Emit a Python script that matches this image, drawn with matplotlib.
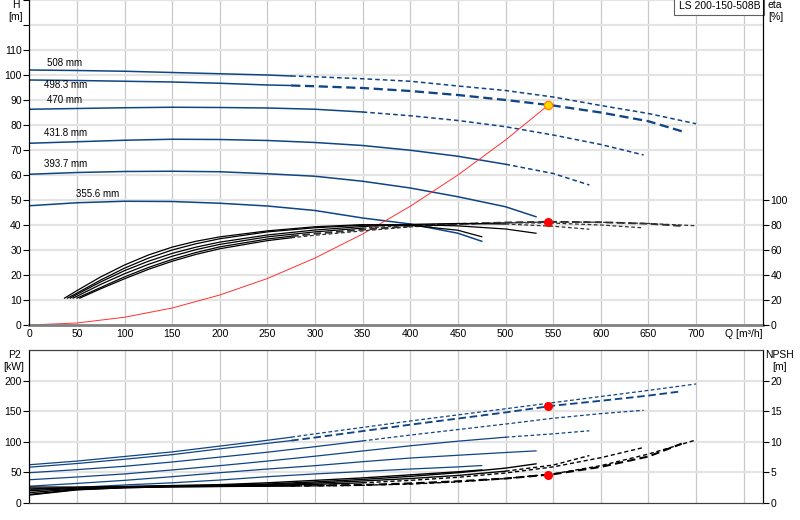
import numpy as np
import matplotlib
matplotlib.use("Agg")
import matplotlib.pyplot as plt

plt.rcParams['font.family'] = ['Liberation Sans', 'DejaVu Sans']
plt.rcParams['font.size'] = 7

# impeller diameters, top to bottom
diameters = ['508 mm', '498.3 mm', '470 mm', '431.8 mm', '393.7 mm', '355.6 mm']
dash_from = [275, 275, 350, 500, None, None]   # Q where curve turns dashed
bold = [False, True, False, False, False, False]

# H [m] curves
h_q = [
    [0, 50, 100, 150, 200, 250, 275, 300, 350, 400, 450, 500, 550, 600, 650, 700],
    [0, 50, 100, 150, 200, 250, 275, 300, 350, 400, 450, 500, 550, 600, 650, 685],
    [0, 50, 100, 150, 200, 250, 300, 350, 400, 450, 500, 550, 600, 645],
    [0, 50, 100, 150, 200, 250, 300, 350, 400, 450, 500, 550, 588],
    [0, 50, 100, 150, 200, 250, 300, 350, 400, 450, 500, 532],
    [0, 50, 100, 150, 200, 250, 300, 350, 400, 450, 475],
]
h_val = [
    [102, 101.8, 101.5, 101, 100.5, 100, 99.6, 99.3, 98.5, 97.5, 95.6, 93.8, 91.2, 87.8, 84.6, 80.5],
    [98, 97.8, 97.5, 97.2, 96.7, 96, 95.8, 95.5, 94.8, 93.6, 92, 90, 87.8, 85, 81.5, 77.5],
    [86.3, 86.6, 86.9, 87.1, 87, 86.8, 86.3, 85.2, 83.7, 81.8, 79.3, 76, 72.2, 68],
    [72.7, 73.3, 73.9, 74.3, 74.2, 73.8, 73, 71.8, 69.9, 67.5, 64.3, 60.6, 56],
    [60.3, 61, 61.4, 61.5, 61.3, 60.5, 59.5, 57.5, 54.8, 51.3, 47.3, 43.3],
    [47.7, 48.9, 49.5, 49.4, 48.7, 47.6, 45.8, 42.8, 40.4, 36.7, 33.5],
]

# eta [%] curves
eta_q = [
    [53, 75, 100, 125, 150, 175, 200, 250, 275, 300, 350, 400, 450, 500, 550, 600, 650, 700],
    [50, 75, 100, 125, 150, 175, 200, 250, 275, 300, 350, 400, 450, 500, 545, 600, 650, 686],
    [46, 50, 75, 100, 125, 150, 175, 200, 250, 300, 350, 400, 450, 500, 550, 600, 643],
    [43, 50, 75, 100, 125, 150, 175, 200, 250, 300, 350, 400, 450, 500, 550, 588],
    [40, 50, 75, 100, 125, 150, 175, 200, 250, 300, 350, 400, 450, 500, 532],
    [37, 50, 75, 100, 125, 150, 175, 200, 250, 300, 350, 400, 450, 475],
]
eta_val = [
    [21.5, 29, 37, 44.5, 51, 56.5, 61, 67.5, 69.8, 71.8, 75.3, 78.5, 80.5, 81.8, 82.4, 82.2, 81.2, 79.4],
    [21.5, 30, 38.5, 46, 52.5, 58, 62.5, 68.8, 71, 73, 76.3, 79, 80.8, 82, 82.6, 82.2, 81, 79.2],
    [21.5, 23, 32.5, 41, 48.5, 55, 60.3, 64.5, 70.5, 74.5, 77.5, 79.7, 81.1, 81.8, 81.5, 80, 77.8],
    [21.5, 24.5, 34.5, 43.5, 51, 57.3, 62.3, 66.3, 72, 76, 78.8, 80.5, 81.2, 80.8, 79, 76.6],
    [21.5, 25.5, 36, 45.5, 53.5, 60, 65, 69, 74.5, 77.8, 79.8, 80.3, 79.3, 76.8, 73.4],
    [21.5, 27.5, 38.5, 48, 56, 62.3, 67, 70.5, 75.3, 78.6, 80.3, 79.8, 75.8, 70.6],
]

# P2 [kW] curves
p2_q = h_q
p2_val = [
    [62.5, 68.5, 76, 83.5, 93, 102.5, 107.5, 113, 123.5, 134, 144, 154, 164, 174, 184, 194.5],
    [58.5, 64.5, 71.5, 79, 88.5, 97.5, 102, 107, 117.5, 128, 138, 148, 159, 167, 175.5, 182.5],
    [49.5, 54.5, 60, 67, 75, 83, 92, 101.5, 111, 120, 129, 138.5, 146, 151.5],
    [38, 42.5, 47.5, 54, 61, 68.5, 76.5, 85, 93.5, 101, 107.5, 113, 118],
    [27.5, 32, 37, 43, 49.5, 55.5, 61, 67.5, 73.5, 78, 82.5, 85.2],
    [22, 25.5, 29.5, 33, 37.5, 43, 47.5, 51.5, 55.5, 59, 61.2],
]

# NPSH [m] curves
npsh_q = h_q
npsh_val = [
    [1.3, 2.15, 2.5, 2.65, 2.7, 2.75, 2.78, 2.8, 2.9, 3.1, 3.45, 4.0, 4.75, 6.1, 8.0, 10.3],
    [1.4, 2.2, 2.5, 2.65, 2.72, 2.78, 2.82, 2.85, 2.95, 3.2, 3.55, 4.0, 4.7, 5.9, 7.6, 9.7],
    [1.7, 2.3, 2.55, 2.7, 2.8, 2.9, 3.05, 3.3, 3.7, 4.2, 4.9, 5.9, 7.4, 9.07],
    [2.0, 2.4, 2.6, 2.75, 2.85, 3.0, 3.25, 3.6, 4.0, 4.5, 5.2, 6.2, 7.75],
    [2.3, 2.5, 2.65, 2.8, 2.9, 3.1, 3.45, 3.85, 4.35, 4.95, 5.7, 6.4],
    [2.6, 2.6, 2.7, 2.85, 3.0, 3.3, 3.7, 4.1, 4.6, 5.1, 5.4],
]

# system curve and duty point
sys_q = [0, 50, 100, 150, 200, 250, 300, 350, 400, 450, 500, 545]
sys_h = [0, 0.8, 3.1, 6.8, 12, 18.6, 26.8, 36.4, 47.5, 60, 74, 88]
duty_q = 545
duty_h = 88
duty_eta = 82.6
duty_p2 = 158
duty_npsh = 4.55

label_q = [19, 15, 19, 15, 15, 49]
label_h = [105, 96, 90, 76.8, 64.4, 52.4]

blue = '#0f4485'
grid_v = '#c8c8c8'
grid_h = '#e4e4e4'

fig = plt.figure(figsize=(8, 5.2), dpi=100)
left = 29.3 / 800
width = (762.7 - 29.3) / 800
ax1 = fig.add_axes([left, 1 - 325 / 520, width, 325 / 520])
ax2 = fig.add_axes([left, 1 - 503 / 520, width, 153 / 520])
ax1e = ax1.twinx()
ax2n = ax2.twinx()


def draw(ax, q, v, split, color, lw, thick, dcolor=None):
    q = np.array(q, float)
    v = np.array(v, float)
    if split is None:
        ax.plot(q, v, color=color, lw=lw)
        return
    s = q <= split
    d = q >= split
    ax.plot(q[s], v[s], color=color, lw=lw)
    ax.plot(q[d], v[d], color=dcolor or color, lw=lw * (1.5 if thick else 1.0),
            dashes=(4, 2) if thick else (3, 2))


for i in range(6):
    draw(ax1, h_q[i], h_val[i], dash_from[i], blue, 1.1, bold[i])
    draw(ax1e, eta_q[i], eta_val[i], dash_from[i], 'black', 0.9, bold[i], '#303030')
    draw(ax2, p2_q[i], p2_val[i], dash_from[i], blue, 0.9, bold[i])
    draw(ax2n, npsh_q[i], npsh_val[i], dash_from[i], 'black', 1.0, bold[i])
    ax1.text(label_q[i], label_h[i], diameters[i], fontsize=7, va='center')

ax1.plot(sys_q, sys_h, color='#ff3030', lw=0.7)
ax1.plot(duty_q, duty_h, 'o', ms=6, mfc='#ffd700', mec='#ff8c00', mew=1, zorder=6)
ax1e.plot(duty_q, duty_eta, 'o', ms=5.5, color='red', zorder=6)
ax2.plot(duty_q, duty_p2, 'o', ms=5.5, color='red', zorder=6)
ax2n.plot(duty_q, duty_npsh, 'o', ms=5.5, color='red', zorder=6)

# axes setup
ax1.set_xlim(0, 770)
ax1.set_ylim(0, 130)
ax1e.set_ylim(0, 260)
ax2.set_xlim(0, 770)
ax2.set_ylim(0, 250)
ax2n.set_ylim(0, 25)

xt = list(range(0, 751, 50))
ax1.set_xticks(xt)
ax1.set_xticklabels([str(x) for x in xt[:-1]] + ['Q [m³/h]'])
ax2.set_xticks(xt)
ax2.set_xticklabels([])
ax1.set_yticks(range(0, 131, 10))
ax1.set_yticklabels([str(y) if y <= 110 else '' for y in range(0, 131, 10)])
ax1e.set_yticks(range(0, 101, 20))
ax2.set_yticks(range(0, 201, 50))
ax2n.set_yticks(range(0, 21, 5))

for a in (ax1, ax2):
    for x in xt:
        a.axvline(x, color=grid_v, lw=0.9, zorder=0)
    a.set_axisbelow(True)
for y in range(10, 131, 10):
    ax1.axhline(y, color=grid_h, lw=1.6, zorder=0)
for y in range(50, 251, 50):
    ax2.axhline(y, color=grid_h, lw=1.6, zorder=0)

for a in (ax1, ax2, ax1e, ax2n):
    a.tick_params(length=4, width=0.8, pad=1.5, labelsize=7.5, colors='black')
ax1.tick_params(axis='x', length=0, pad=3)
ax2.tick_params(axis='x', length=0)

ax1.spines['top'].set_visible(False)
ax1e.spines['top'].set_visible(False)
ax1.spines['bottom'].set_color('#808080')
ax1.spines['bottom'].set_linewidth(2)
ax1e.spines['bottom'].set_visible(False)
for a in (ax2, ax2n):
    a.spines['top'].set_color('#404040')
    a.spines['bottom'].set_color('#404040')

fig.text(16 / 800, 1 - 5 / 520, 'H', ha='center', va='center', fontsize=7.5)
fig.text(16 / 800, 1 - 17 / 520, '[m]', ha='center', va='center', fontsize=7.5)
fig.text(768 / 800, 1 - 5 / 520, 'eta', ha='left', va='center', fontsize=7.5)
fig.text(768 / 800, 1 - 17 / 520, '[%]', ha='left', va='center', fontsize=7.5)
fig.text(14 / 800, 1 - 355 / 520, 'P2', ha='center', va='center', fontsize=7.5)
fig.text(14 / 800, 1 - 367 / 520, '[kW]', ha='center', va='center', fontsize=7.5)
fig.text(780 / 800, 1 - 355 / 520, 'NPSH', ha='center', va='center', fontsize=7.5)
fig.text(780 / 800, 1 - 367 / 520, '[m]', ha='center', va='center', fontsize=7.5)

ax1.text(0.9965, 0.997, 'LS 200-150-508B', transform=ax1.transAxes, ha='right', va='top',
         fontsize=7.5, zorder=10,
         bbox=dict(boxstyle='square,pad=0.4', fc='white', ec='#606060', lw=0.8))

fig.savefig('out.png', dpi=100)
